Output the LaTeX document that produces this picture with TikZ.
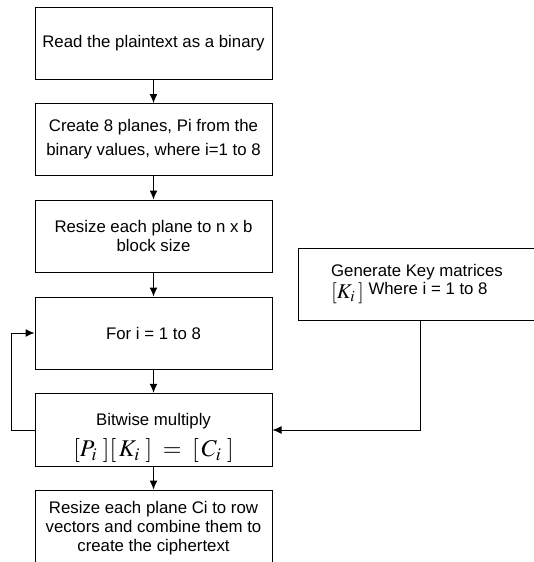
\documentclass[tikz,border=0pt]{standalone}
\usepackage{mathptmx}
\usepackage{fontspec}
\setmainfont{Liberation Sans}
\usetikzlibrary{arrows.meta}
\begin{document}
\begin{tikzpicture}[x=0.5pt,y=-0.5pt,
  box/.style={draw, line width=0.5pt, minimum width=118.5pt, minimum height=36pt,
    align=center, inner sep=2pt, font=\fontsize{8.4}{9.6}\selectfont},
  arr/.style={-{Latex[length=4.5pt,width=4pt]}, line width=0.5pt}]
\useasboundingbox (0,0) rectangle (534,562);

% main column
\node[box] (read) at (153.5,43) {Read the plaintext as a binary};
\node[box] (planes) at (153.5,139.5) {Create 8 planes, Pi from the\\[2.5pt] binary values, where i=1 to 8};
\node[box] (resize) at (153.5,236) {Resize each plane to n x b\\ block size};
\node[box] (loop) at (153.5,333) {For i = 1 to 8};
\node[box] (mult) at (153.5,430) {\rule{0pt}{14pt}Bitwise multiply\\[4pt]
  {\fontsize{12}{13}\selectfont$[P_i\,\,][\,K_i\,\,]\;=\;[\,C_i\,\,]$}};
\node[box, minimum height=38pt] (cipher) at (153.5,528) {Resize each plane Ci to row\\ vectors and combine them to\\ create the ciphertext};

% key generation
\node[box] (keys) at (417,284.5) {};
\node[anchor=north, align=left, inner sep=0pt, font=\fontsize{8.4}{6.5}\selectfont] (keytxt) at ([yshift=-8pt]keys.north)
  {Generate Key matrices\\ {\fontsize{10.5}{11}\selectfont$[K_i\,]$}\raisebox{2pt}{ Where i = 1 to 8}};

\draw[arr] (read) -- (planes);
\draw[arr] (planes) -- (resize);
\draw[arr] (resize) -- (loop);
\draw[arr] (loop) -- (mult);
\draw[arr] (mult) -- (cipher);
\draw[arr] ([xshift=1.5pt]keys.south) |- (mult.east);
\draw[arr] (mult.west) -- ++(-23,0) |- (loop.west);
\end{tikzpicture}
\end{document}
